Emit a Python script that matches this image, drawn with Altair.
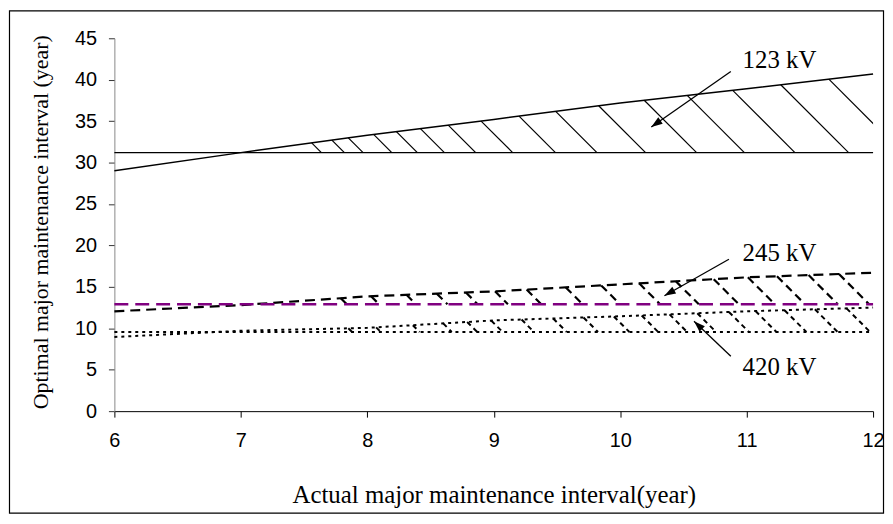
import altair as alt
import numpy as np
import pandas as pd

# ---------------- data ----------------
years = [6, 7, 8, 9, 10, 11, 12]
kv123_upper = [29.0, 31.2, 33.3, 35.2, 37.2, 38.9, 40.7]
kv123_base = 31.2
kv245_upper = [12.05, 12.8, 13.85, 14.45, 15.3, 16.15, 16.7]
kv245_base = 12.9
kv420_upper = [8.95, 9.7, 10.05, 10.95, 11.45, 12.05, 12.5]
kv420_base = 9.55

# x positions (years) where hatch strokes start on the upper curve
hatch123_x = [7.56, 7.72, 7.85, 8.05, 8.23, 8.42, 8.64, 8.90, 9.20, 9.49,
              9.83, 10.19, 10.53, 10.89, 11.27, 11.65]
hatch245_x = [7.79, 8.03, 8.31, 8.55, 8.78, 9.01, 9.26, 9.57, 9.85, 10.15,
              10.44, 10.74, 11.01, 11.24, 11.49, 11.73]
hatch420_x = [7.85, 8.07, 8.36, 8.60, 8.79, 8.98, 9.22, 9.47, 9.71, 9.95,
              10.17, 10.39, 10.61, 10.86, 11.07, 11.30, 11.54, 11.79]

ann_text = ["123 kV", "245 kV", "420 kV"]
ann_x = [11.26, 11.26, 11.26]
ann_y = [42.4, 19.05, 5.27]
arrow_from_x = [10.875, 10.86, 10.875]
arrow_from_y = [41.0, 18.33, 6.63]
arrow_to_x = [10.246, 10.35, 10.584]
arrow_to_y = [34.3, 13.93, 10.85]
arrow_angle = [235, 240.5, 313.6]

x_ticks = [6, 7, 8, 9, 10, 11, 12]
y_ticks = [0, 5, 10, 15, 20, 25, 30, 35, 40, 45]

# ---------------- layout ----------------
W, H = 763, 375
PAD = {"left": 107, "top": 29, "right": 12, "bottom": 104}
HATCH_SLOPE = (H / 45.0) / (W / 6.0)  # years per unit for a 45-degree stroke

xs = alt.Scale(domain=[6, 12], nice=False, zero=False)
ys = alt.Scale(domain=[0, 45], nice=False)

SERIF = "Liberation Serif"
SANS = "Liberation Sans"


def line_df(upper):
    return pd.DataFrame({"x": years, "y": upper})


def base_df(val):
    return pd.DataFrame({"x": [years[0]], "x2": [years[-1]], "y": [val]})


def hatch_df(xpos, upper, base):
    xpos = np.array(xpos, dtype=float)
    top = np.interp(xpos, years, upper)
    return pd.DataFrame({"x": xpos, "y": top,
                         "x2": xpos + (top - base) * HATCH_SLOPE,
                         "y2": base})


X = alt.X("x:Q", scale=xs,
          axis=alt.Axis(values=x_ticks, format="d", grid=False,
                        title="Actual major maintenance interval(year)",
                        titleFont=SERIF, titleFontSize=25, titleFontWeight="normal",
                        titleColor="black", titleBaseline="alphabetic", titleY=92,
                        labelFont=SANS, labelFontSize=20, labelColor="black",
                        labelPadding=14, tickSize=6, tickColor="black",
                        domainColor="black", labelFlush=False))
Y = alt.Y("y:Q", scale=ys,
          axis=alt.Axis(values=y_ticks, grid=False,
                        title="Optimal major maintenance interval (year)",
                        titleFont=SERIF, titleFontSize=22, titleFontWeight="normal",
                        titleColor="black", titleBaseline="alphabetic",
                        titleX=-67, titleY=H / 2 - 3, titleAngle=270,
                        labelFont=SANS, labelFontSize=20, labelColor="black",
                        labelPadding=12, tickSize=6, tickColor="#333333",
                        domainColor="#888888", labelFlush=False))

# border around the whole figure
border = alt.Chart(pd.DataFrame({"k": [0]})).mark_rect(
    fill=None, stroke="black", strokeWidth=1.2
).encode(x=alt.value(-PAD["left"] + 1.5), x2=alt.value(W + PAD["right"] - 1.5),
         y=alt.value(-PAD["top"] + 1.5), y2=alt.value(H + PAD["bottom"] - 1.5))

# 123 kV
l123 = alt.Chart(line_df(kv123_upper)).mark_line(color="black", strokeWidth=1.5).encode(x=X, y=Y)
b123 = alt.Chart(base_df(kv123_base)).mark_rule(color="black", strokeWidth=1.5).encode(
    x=alt.X("x:Q", scale=xs), x2="x2:Q", y=alt.Y("y:Q", scale=ys))
h123 = alt.Chart(hatch_df(hatch123_x, kv123_upper, kv123_base)).mark_rule(
    color="black", strokeWidth=1.2, clip=True).encode(
    x=alt.X("x:Q", scale=xs), y=alt.Y("y:Q", scale=ys), x2="x2:Q", y2="y2:Q")

# 245 kV
l245 = alt.Chart(line_df(kv245_upper)).mark_line(
    color="black", strokeWidth=2.2, strokeDash=[10, 6]).encode(x=alt.X("x:Q", scale=xs), y=alt.Y("y:Q", scale=ys))
h245 = alt.Chart(hatch_df(hatch245_x, kv245_upper, kv245_base)).mark_rule(
    color="black", strokeWidth=2.2, strokeDash=[8, 5], clip=True).encode(
    x=alt.X("x:Q", scale=xs), y=alt.Y("y:Q", scale=ys), x2="x2:Q", y2="y2:Q")
b245 = alt.Chart(base_df(kv245_base)).mark_rule(
    color="#800080", strokeWidth=2.5, strokeDash=[14, 7]).encode(
    x=alt.X("x:Q", scale=xs), x2="x2:Q", y=alt.Y("y:Q", scale=ys))

# 420 kV
l420 = alt.Chart(line_df(kv420_upper)).mark_line(
    color="black", strokeWidth=2, strokeDash=[3, 4]).encode(x=alt.X("x:Q", scale=xs), y=alt.Y("y:Q", scale=ys))
b420 = alt.Chart(base_df(kv420_base)).mark_rule(
    color="black", strokeWidth=2, strokeDash=[3, 4]).encode(
    x=alt.X("x:Q", scale=xs), x2="x2:Q", y=alt.Y("y:Q", scale=ys))
h420 = alt.Chart(hatch_df(hatch420_x, kv420_upper, kv420_base)).mark_rule(
    color="black", strokeWidth=2, strokeDash=[5, 4], clip=True).encode(
    x=alt.X("x:Q", scale=xs), y=alt.Y("y:Q", scale=ys), x2="x2:Q", y2="y2:Q")

# annotations
ann = pd.DataFrame({"t": ann_text, "x": ann_x, "y": ann_y,
                    "ax": arrow_from_x, "ay": arrow_from_y,
                    "bx": arrow_to_x, "by": arrow_to_y, "ang": arrow_angle})
texts = alt.Chart(ann).mark_text(font=SERIF, fontSize=25, color="black",
                                 align="center", baseline="middle").encode(
    x=alt.X("x:Q", scale=xs), y=alt.Y("y:Q", scale=ys), text="t:N")
arrows = alt.Chart(ann).mark_rule(color="black", strokeWidth=1.3).encode(
    x=alt.X("ax:Q", scale=xs), y=alt.Y("ay:Q", scale=ys), x2="bx:Q", y2="by:Q")
heads = alt.Chart(ann).mark_point(
    shape="M0,0L0.55,1.6L-0.55,1.6Z", filled=True, color="black", opacity=1,
    size=200, strokeWidth=0).encode(
    x=alt.X("bx:Q", scale=xs), y=alt.Y("by:Q", scale=ys),
    angle=alt.Angle("ang:Q", scale=None))

chart = alt.layer(
    border, l123, b123, h123, l420, b420, h420, l245, h245, b245,
    arrows, heads, texts
).properties(
    width=W, height=H, padding=PAD, autosize=alt.AutoSizeParams(type="none"),
    background="white"
).configure_view(stroke=None)

chart.save("out.html", embed_options={"renderer": "svg", "actions": False})
